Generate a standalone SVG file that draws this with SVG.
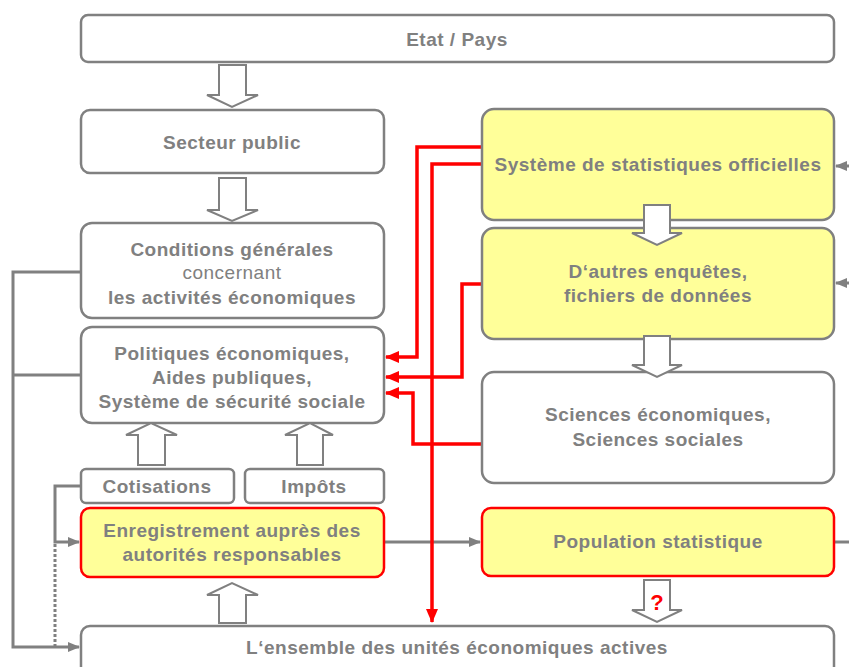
<svg xmlns="http://www.w3.org/2000/svg" width="849" height="667" viewBox="0 0 849 667">
<style>
.box{fill:#fff;stroke:#808080;stroke-width:2.5}
.yel{fill:#ffff99;stroke:#808080;stroke-width:2.5}
.yelr{fill:#ffff99;stroke:#ff0000;stroke-width:2.5}
.t{font-family:"Liberation Sans",Arial,sans-serif;font-size:19px;letter-spacing:0.5px;font-weight:bold;fill:#808080;text-anchor:middle}
.n{font-weight:normal}
.ba{fill:#fff;stroke:#808080;stroke-width:2}
.g{fill:none;stroke:#808080;stroke-width:3}
.gd{fill:none;stroke:#808080;stroke-width:3;stroke-dasharray:3 2}
.r{fill:none;stroke:#ff0000;stroke-width:3.5}
</style>
<defs>
<marker id="ag" markerUnits="userSpaceOnUse" markerWidth="12" markerHeight="10" refX="11" refY="5" orient="auto">
<path d="M0,0 L12,5 L0,10 Z" fill="#808080"/>
</marker>
<marker id="ar" markerUnits="userSpaceOnUse" markerWidth="14" markerHeight="12" refX="13" refY="6" orient="auto">
<path d="M0,0 L14,6 L0,12 Z" fill="#ff0000"/>
</marker>
</defs>

<g id="connectors">
<polyline class="g" points="81,272 13,272 13,647 79,647" marker-end="url(#ag)"/>
<line class="g" x1="13" y1="375" x2="81" y2="375"/>
<polyline class="g" points="81,486 55,486 55,542 79,542" marker-end="url(#ag)"/>
<line class="gd" x1="55" y1="544" x2="55" y2="646"/>
<line class="g" x1="384" y1="542" x2="480" y2="542" marker-end="url(#ag)"/>
<line class="g" x1="834" y1="542" x2="849" y2="542"/>
<line class="g" x1="849" y1="166" x2="836" y2="166" marker-end="url(#ag)"/>
<line class="g" x1="849" y1="283" x2="836" y2="283" marker-end="url(#ag)"/>
<polyline class="r" points="482,147 417,147 417,357 386,357" marker-end="url(#ar)"/>
<polyline class="r" points="482,164 432,164 432,622" marker-end="url(#ar)"/>
<polyline class="r" points="482,284 462,284 462,377 386,377" marker-end="url(#ar)"/>
<polyline class="r" points="482,444 413,444 413,393 386,393" marker-end="url(#ar)"/>
</g>

<g id="etat"><rect class="box" x="81" y="15" width="753" height="47" rx="7"/><text class="t" x="457" y="46">Etat / Pays</text></g>
<g id="secteur"><rect class="box" x="81" y="110" width="303" height="63" rx="9"/><text class="t" x="232" y="149">Secteur public</text></g>
<g id="conditions"><rect class="box" x="81" y="223" width="303" height="95" rx="11"/>
<text class="t" x="232" y="256">Conditions générales</text>
<text class="t n" x="232" y="279">concernant</text>
<text class="t" x="232" y="304">les activités économiques</text></g>
<g id="politiques"><rect class="box" x="81" y="327" width="303" height="96" rx="11"/>
<text class="t" x="232" y="360">Politiques économiques,</text>
<text class="t" x="232" y="384">Aides publiques,</text>
<text class="t" x="232" y="408">Système de sécurité sociale</text></g>
<g id="cotisations"><rect class="box" x="81" y="469" width="153" height="34" rx="5"/><text class="t" x="157" y="493">Cotisations</text></g>
<g id="impots"><rect class="box" x="245" y="469" width="139" height="34" rx="5"/><text class="t" x="314" y="493">Impôts</text></g>
<g id="enregistrement"><rect class="yelr" x="81" y="508" width="303" height="69" rx="9"/>
<text class="t" x="232" y="537">Enregistrement auprès des</text>
<text class="t" x="232" y="561">autorités responsables</text></g>
<g id="ensemble"><rect class="box" x="81" y="626" width="753" height="60" rx="9"/><text class="t" x="457" y="654">L‘ensemble des unités économiques actives</text></g>
<g id="systeme"><rect class="yel" x="482" y="109" width="352" height="111" rx="12"/><text class="t" x="658" y="171">Système de statistiques officielles</text></g>
<g id="autres"><rect class="yel" x="482" y="228" width="352" height="111" rx="12"/>
<text class="t" x="658" y="278">D‘autres enquêtes,</text>
<text class="t" x="658" y="302">fichiers de données</text></g>
<g id="sciences"><rect class="box" x="482" y="372" width="352" height="111" rx="12"/>
<text class="t" x="658" y="421">Sciences économiques,</text>
<text class="t" x="658" y="446">Sciences sociales</text></g>
<g id="population"><rect class="yelr" x="482" y="508" width="352" height="68" rx="9"/><text class="t" x="658" y="548">Population statistique</text></g>

<g id="block-arrows">
<polygon class="ba" points="219,65 246,65 246,95 258,95 232,107 207,95 219,95"/>
<polygon class="ba" points="219,178 246,178 246,210 258,210 232,221 207,210 219,210"/>
<polygon class="ba" points="644,205 670,205 670,233 682,233 657,245 632,233 644,233"/>
<polygon class="ba" points="644,336 670,336 670,365 682,365 657,377 632,365 644,365"/>
<polygon class="ba" points="644,580 670,580 670,610 682,610 657,622 632,610 644,610"/>
<text x="657" y="610" style="font-family:'Liberation Sans',Arial,sans-serif;font-size:22px;font-weight:bold;fill:#ff0000;text-anchor:middle">?</text>
<polygon class="ba" points="138,465 165,465 165,435 177,435 151,423 126,435 138,435"/>
<polygon class="ba" points="297,465 323,465 323,435 333,435 310,423 285,435 297,435"/>
<polygon class="ba" points="219,623 246,623 246,595 258,595 232,583 207,595 219,595"/>
</g>
</svg>
